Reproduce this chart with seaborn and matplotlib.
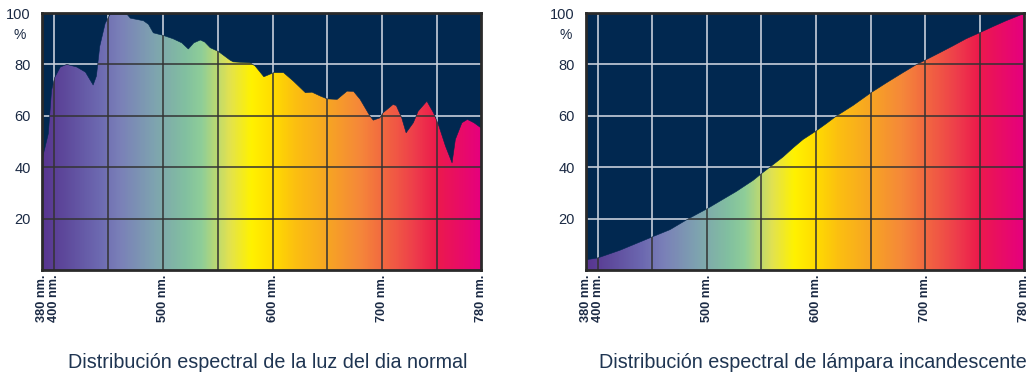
import numpy as np
import pandas as pd
import matplotlib
matplotlib.use("Agg")
import matplotlib.pyplot as plt
import seaborn as sns
from matplotlib.colors import LinearSegmentedColormap

# ---------------- data ----------------
day_nm = [389.3, 390.5, 395, 398, 401, 406, 412, 421, 429, 436, 439, 442, 447, 451.5,
          467, 470, 482, 486.6, 491, 500, 509, 517, 523, 528, 534, 538, 543, 550.6,
          561, 564, 579.6, 584, 592, 601, 610, 619, 630, 636, 643.6, 649.7, 659, 668,
          674, 680, 689, 692, 698, 701, 710, 713, 718, 722, 728.6, 733, 741, 747, 752,
          758, 764, 767, 773, 778, 784, 790.5]
day_val = [43, 45, 53, 70, 75, 79, 80, 79, 77, 72, 75.5, 87, 96, 99.5,
           99.5, 98, 97, 95.6, 92.3, 91.3, 90, 88.4, 86, 88.4, 89.5, 88.7, 86.5, 85,
           81.7, 81, 80.6, 79.4, 75.2, 76.8, 76.8, 73.5, 69, 69.2, 67.7, 66.6, 66.4, 69.6,
           69.5, 66.4, 59.9, 58.3, 59.2, 61.2, 64.4, 64, 59.2, 53.4, 57.3, 61.8, 65.7, 61.2, 56,
           48.2, 41.7, 50.8, 57.3, 58.6, 57.3, 55.3]

lamp_nm = [389.3, 400, 420.4, 450, 466.2, 482.9, 500, 511.9, 527.1, 542.4, 550, 557.6,
           569.8, 578.9, 588.1, 599.7, 609.5, 618.6, 633.8, 650, 664.3, 679.6, 691.8,
           699.7, 713.1, 725.3, 737.5, 749.7, 761.9, 774.1, 790.5]
lamp_val = [4.0, 4.7, 7.7, 12.9, 15.7, 19.9, 23.8, 26.8, 30.6, 34.9, 37.5, 40.0,
            44.0, 47.5, 50.8, 54.0, 57.0, 59.9, 64.0, 68.9, 72.8, 76.8, 79.9,
            81.6, 84.5, 87.2, 90.0, 92.3, 94.7, 97.0, 99.8]

x_tick_labels = ["380 nm.", "400 nm.", "500 nm.", "600 nm.", "700 nm.", "780 nm."]
y_ticks = [20, 40, 60, 80, 100]
titles = ["Distribución espectral de la luz del dia normal",
          "Distribución espectral de lámpara incandescente"]

# spectrum colour stops (nm, colour)
spec_nm = [389.3, 410, 440, 460, 490, 520, 535, 560, 580, 600, 620, 650, 680, 700, 730, 750, 790.5]
spec_col = ["#583590", "#5e4a9c", "#6c68b0", "#7a80b8", "#7ea2b0", "#82c0a0", "#8fce98",
            "#e2e250", "#fff200", "#ffdc00", "#fcc010", "#f7a523", "#f5873a", "#f26a40",
            "#ee3d4b", "#ec1a4c", "#e6007e"]

XMIN, XMAX = 389.3, 790.5
BG = "#012850"
TXT = "#1b2a44"

sns.set_theme(style="dark")
plt.rcParams['font.family'] = ['Liberation Sans', 'DejaVu Sans']

fig = plt.figure(figsize=(10.33, 3.73), dpi=100)
positions = [[0.0407, 0.2761, 0.425, 0.689], [0.5673, 0.2761, 0.424, 0.689]]
pct_x = [-0.05, -0.047]
title_x = [0.2595, 0.7865]

stops = [(n - XMIN) / (XMAX - XMIN) for n in spec_nm]
cmap = LinearSegmentedColormap.from_list("spec", list(zip(stops, spec_col)))

for i, (nm, val) in enumerate([(day_nm, day_val), (lamp_nm, lamp_val)]):
    ax = fig.add_axes(positions[i])
    ax.set_facecolor(BG)
    ax.set_xlim(XMIN, XMAX)
    ax.set_ylim(0, 100)
    df = pd.DataFrame({"nm": nm, "val": val})

    poly = ax.fill_between(df["nm"], 0, df["val"], color="none", lw=0)
    grad = np.linspace(0, 1, 600).reshape(1, -1)
    im = ax.imshow(grad, cmap=cmap, extent=[XMIN, XMAX, 0, 100], aspect="auto",
                   origin="lower", zorder=1, interpolation="bilinear")
    clip = poly.get_paths()[0]
    im.set_clip_path(clip, transform=ax.transData)

    sns.lineplot(data=df, x="nm", y="val", ax=ax, color=BG, lw=0.4, zorder=2,
                 sort=False)

    # grid: light over background, dark inside the spectrum
    for gx in [400, 450, 500, 550, 600, 650, 700, 750]:
        ax.axvline(gx, color="#c6cedb", lw=1.2, zorder=0.5)
        l = ax.axvline(gx, color="#333333", lw=1.1, zorder=3)
        l.set_clip_path(clip, transform=ax.transData)
    for gy in [20, 40, 60, 80]:
        ax.axhline(gy, color="#c6cedb", lw=1.2, zorder=0.5)
        l = ax.axhline(gy, color="#333333", lw=1.1, zorder=3)
        l.set_clip_path(clip, transform=ax.transData)
    ax.grid(False)

    ax.set_xticks([XMIN, 400, 500, 600, 700, XMAX])
    ax.set_xticklabels(x_tick_labels, rotation=90, fontsize=9.2, fontweight="bold",
                       color=TXT)
    ax.set_yticks(y_ticks)
    ax.set_yticklabels([str(v) for v in y_ticks], fontsize=10.5, color=TXT)
    ax.tick_params(axis="both", length=0, pad=3)
    ax.tick_params(axis="y", pad=8)
    ax.text(pct_x[i], 91.5, "%", transform=ax.get_yaxis_transform(), ha="center",
            va="center", fontsize=10, color=TXT)
    ax.set_xlabel("")
    ax.set_ylabel("")
    for s in ax.spines.values():
        s.set_visible(True)
        s.set_color("#2a2a2a")
        s.set_linewidth(2)
        s.set_zorder(5)

    fig.text(title_x[i], 0.014, titles[i], ha="center", va="baseline", fontsize=14.2,
             color="#1f3552")

fig.savefig("out.png", dpi=100, facecolor="white")
